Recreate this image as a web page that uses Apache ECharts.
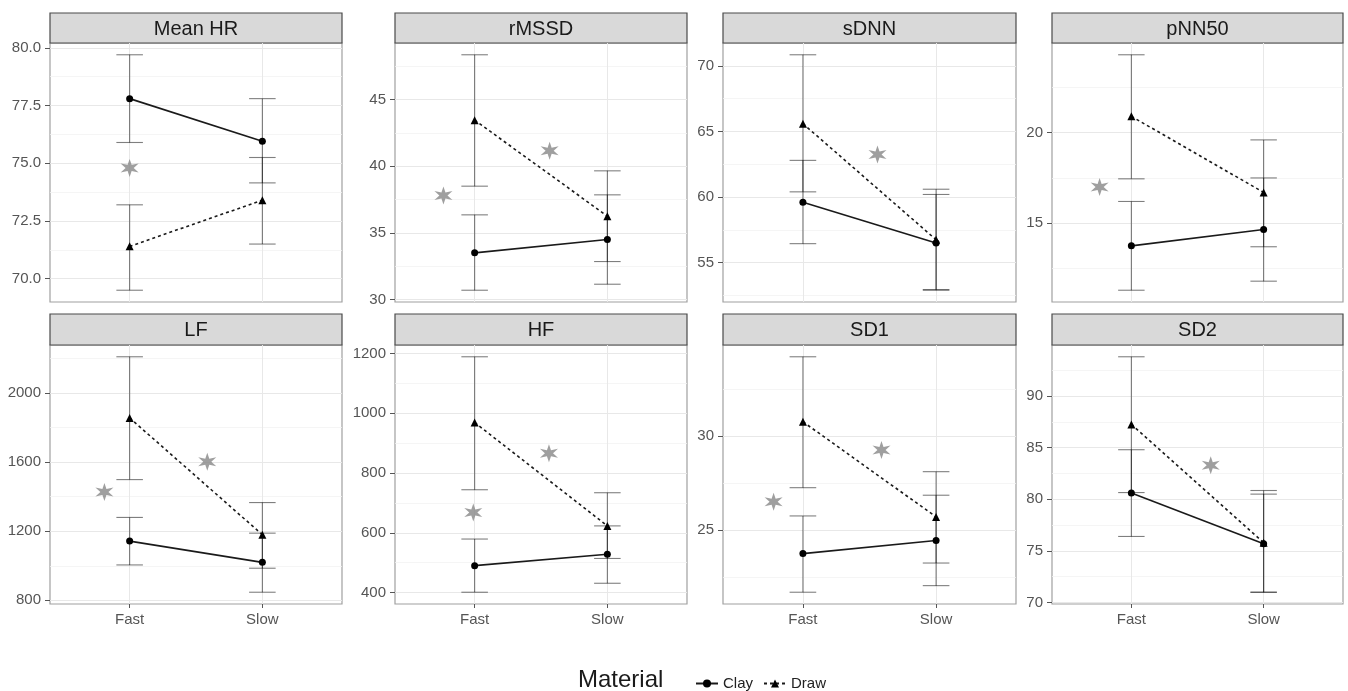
<!DOCTYPE html>
<html>
<head>
<meta charset="utf-8">
<title>HRV by speed and material</title>
<script src="https://cdn.jsdelivr.net/npm/echarts@6/dist/echarts.min.js"></script>
<style>
  html, body { margin: 0; padding: 0; background: #fff; }
  #chart { width: 1348px; height: 691px; }
</style>
</head>
<body>
<div id="chart"></div>
<script>
  // x categories and panel titles
  const speeds = ['Fast', 'Slow'];
  const metrics = ['Mean HR', 'rMSSD', 'sDNN', 'pNN50', 'LF', 'HF', 'SD1', 'SD2'];

  // Clay: mean, lower and upper error bar (Fast, Slow)
  const clayMean = [[77.8, 75.95], [33.5, 34.5], [59.6, 56.5], [13.75, 14.65], [1143, 1020], [490, 528], [23.75, 24.45], [80.6, 75.7]];
  const clayLo   = [[75.9, 74.15], [30.7, 31.15], [56.45, 52.9], [11.3, 11.8], [1005, 847], [401, 431], [21.7, 22.05], [76.4, 71.0]];
  const clayHi   = [[79.7, 77.8], [36.35, 37.85], [62.8, 60.2], [16.2, 17.5], [1280, 1189], [579, 623], [25.75, 26.85], [84.8, 80.5]];

  // Draw: mean, lower and upper error bar (Fast, Slow)
  const drawMean = [[71.4, 73.4], [43.45, 36.25], [65.6, 56.75], [20.9, 16.7], [1856, 1180], [969, 623], [30.75, 25.7], [87.25, 75.8]];
  const drawLo   = [[69.5, 71.5], [38.5, 32.85], [60.4, 52.95], [17.45, 13.7], [1499, 986], [744, 514], [27.25, 23.25], [80.65, 71.0]];
  const drawHi   = [[73.2, 75.25], [48.35, 39.65], [70.85, 60.6], [24.3, 19.6], [2210, 1366], [1189, 734], [34.2, 28.1], [93.8, 80.85]];

  // significance stars (x on the 1..2 category scale)
  const starX = [[1.0], [0.765, 1.565], [1.56], [0.76], [0.81, 1.585], [0.99, 1.56], [0.78, 1.59], [1.6]];
  const starY = [[74.8], [37.8, 41.15], [63.25], [17.0], [1427, 1602], [668, 866], [26.5, 29.25], [83.3]];

  // y tick labels per panel
  const yTicks = [
    [70, 72.5, 75, 77.5, 80],
    [30, 35, 40, 45],
    [55, 60, 65, 70],
    [15, 20],
    [800, 1200, 1600, 2000],
    [400, 600, 800, 1000, 1200],
    [25, 30],
    [70, 75, 80, 85, 90]
  ];

  // layout
  const colLeft = [50, 395, 723, 1052];
  const colWidth = [292, 292, 293, 291];
  const stripTop = [13, 314];
  const plotTop = [43, 345];
  const plotHeight = 259;
  const FONT = '"Liberation Sans", Arial, sans-serif';

  function yRange(i) {
    const vals = [].concat(clayLo[i], clayHi[i], drawLo[i], drawHi[i], starY[i]);
    const lo = Math.min.apply(null, vals), hi = Math.max.apply(null, vals);
    const pad = (hi - lo) * 0.05;
    return [lo - pad, hi + pad];
  }

  function minorTicks(major, lo, hi) {
    const step = major[1] - major[0];
    const out = [];
    for (let v = major[0] - step * 4.5; v <= hi; v += step) {
      if (v >= lo) out.push(+v.toFixed(6));
    }
    return out;
  }

  // six pointed star glyph
  function starPath() {
    let d = '';
    for (let k = 0; k < 12; k++) {
      const r = k % 2 === 0 ? 10 : 3.9;
      const a = (-90 + k * 30) * Math.PI / 180;
      d += (k === 0 ? 'M' : 'L') + (r * Math.cos(a)).toFixed(2) + ' ' + (r * Math.sin(a)).toFixed(2) + ' ';
    }
    return 'path://' + d + 'Z';
  }
  const STAR = starPath();

  function errorBarRender(params, api) {
    const x = api.value(0), lo = api.value(1), hi = api.value(2);
    const top = api.coord([x, hi]);
    const bot = api.coord([x, lo]);
    const l = api.coord([x - 0.1, hi])[0];
    const r = api.coord([x + 0.1, hi])[0];
    const style = { stroke: 'rgba(0,0,0,0.5)', lineWidth: 1.1 };
    return {
      type: 'group',
      children: [
        { type: 'line', shape: { x1: top[0], y1: top[1], x2: bot[0], y2: bot[1] }, style: style },
        { type: 'line', shape: { x1: l, y1: top[1], x2: r, y2: top[1] }, style: style },
        { type: 'line', shape: { x1: l, y1: bot[1], x2: r, y2: bot[1] }, style: style }
      ]
    };
  }

  const grids = [], xAxes = [], yAxes = [], series = [], graphics = [];

  metrics.forEach(function (name, i) {
    const row = Math.floor(i / 4), col = i % 4;
    const bottomRow = row === 1;
    const r = yRange(i);
    const hasDecimal = yTicks[i].some(function (v) { return v % 1 !== 0; });

    grids.push({
      left: colLeft[col], top: plotTop[row], width: colWidth[col], height: plotHeight,
      show: true, borderColor: '#a0a0a0', borderWidth: 1.2, backgroundColor: '#fff'
    });

    xAxes.push({
      type: 'value', gridIndex: i, min: 0.4, max: 2.6,
      axisLine: { show: false },
      axisTick: { show: bottomRow, customValues: [1, 2], length: 4, lineStyle: { color: '#555' } },
      axisLabel: {
        show: bottomRow, customValues: [1, 2], margin: 8,
        fontFamily: FONT, fontSize: 15, color: '#555',
        formatter: function (v) { return speeds[Math.round(v) - 1]; }
      },
      splitLine: { show: true, lineStyle: { color: '#e8e8e8', width: 1 } }
    });

    const major = yTicks[i].filter(function (v) { return v >= r[0] && v <= r[1]; });
    yAxes.push({
      type: 'value', gridIndex: i, min: r[0], max: r[1],
      axisLine: { show: false },
      axisTick: { show: true, customValues: major, length: 5, lineStyle: { color: '#555' } },
      axisLabel: {
        customValues: major, margin: 9,
        fontFamily: FONT, fontSize: 15, color: '#555',
        formatter: function (v) { return hasDecimal ? v.toFixed(1) : String(Math.round(v)); }
      },
      splitLine: { show: true, lineStyle: { color: '#e8e8e8', width: 1 } }
    });
    yAxes.push({
      type: 'value', gridIndex: i, min: r[0], max: r[1],
      axisLine: { show: false },
      axisTick: { show: false, customValues: minorTicks(yTicks[i], r[0], r[1]) },
      axisLabel: { show: false },
      splitLine: { show: true, lineStyle: { color: '#f2f2f2', width: 0.8 } }
    });

    const yIdx = i * 2;

    series.push({
      name: 'Clay error', type: 'custom', xAxisIndex: i, yAxisIndex: yIdx, z: 2,
      renderItem: errorBarRender, encode: { x: 0, y: [1, 2] },
      data: speeds.map(function (s, j) { return [j + 1, clayLo[i][j], clayHi[i][j]]; })
    });
    series.push({
      name: 'Draw error', type: 'custom', xAxisIndex: i, yAxisIndex: yIdx, z: 2,
      renderItem: errorBarRender, encode: { x: 0, y: [1, 2] },
      data: speeds.map(function (s, j) { return [j + 1, drawLo[i][j], drawHi[i][j]]; })
    });
    series.push({
      name: 'Clay', type: 'line', xAxisIndex: i, yAxisIndex: yIdx, z: 3,
      symbol: 'circle', symbolSize: 7,
      itemStyle: { color: '#000' },
      lineStyle: { color: '#1a1a1a', width: 1.6 },
      data: speeds.map(function (s, j) { return [j + 1, clayMean[i][j]]; })
    });
    series.push({
      name: 'Draw', type: 'line', xAxisIndex: i, yAxisIndex: yIdx, z: 3,
      symbol: 'triangle', symbolSize: 8,
      itemStyle: { color: '#000' },
      lineStyle: { color: '#1a1a1a', width: 1.6, type: [3, 3] },
      data: speeds.map(function (s, j) { return [j + 1, drawMean[i][j]]; })
    });
    series.push({
      name: 'sig', type: 'scatter', xAxisIndex: i, yAxisIndex: yIdx, z: 4,
      symbol: STAR, symbolSize: 18,
      itemStyle: { color: '#878787' },
      data: starX[i].map(function (x, k) { return [x, starY[i][k]]; })
    });

    // facet strip
    graphics.push({
      type: 'rect',
      shape: { x: colLeft[col], y: stripTop[row], width: colWidth[col], height: plotTop[row] - stripTop[row] },
      style: { fill: '#d9d9d9', stroke: '#4a4a4a', lineWidth: 1.2 }
    });
    graphics.push({
      type: 'text',
      x: colLeft[col] + colWidth[col] / 2, y: (stripTop[row] + plotTop[row]) / 2 + 1,
      style: { text: name, fontFamily: FONT, fontSize: 20, fill: '#1a1a1a', align: 'center', verticalAlign: 'middle' }
    });
  });

  graphics.push({
    type: 'text', x: 578, y: 680,
    style: { text: 'Material', fontFamily: FONT, fontSize: 24, fill: '#1a1a1a', verticalAlign: 'middle' }
  });

  const chart = echarts.init(document.getElementById('chart'));
  chart.setOption({
    animation: false,
    backgroundColor: '#fff',
    grid: grids,
    xAxis: xAxes,
    yAxis: yAxes,
    series: series,
    graphic: graphics,
    legend: {
      data: ['Clay', 'Draw'],
      left: 690, top: 671,
      itemWidth: 22, itemHeight: 10, itemGap: 10,
      textStyle: { fontFamily: FONT, fontSize: 15, color: '#222' }
    }
  });
</script>
</body>
</html>
